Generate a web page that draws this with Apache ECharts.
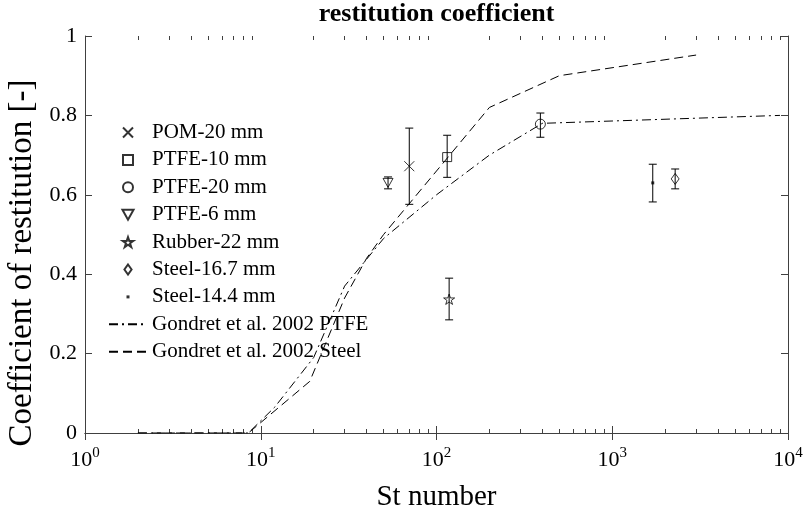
<!DOCTYPE html>
<html>
<head>
<meta charset="utf-8">
<script src="https://cdn.jsdelivr.net/npm/echarts@6/dist/echarts.min.js"></script>
<style>html,body{margin:0;padding:0;background:#fff}#c{width:807px;height:513px}</style>
</head>
<body>
<div id="c"></div>
<script>
// ---- data ----
const titleText = 'restitution coefficient';
const xName = 'St number';
const yName = 'Coefficient of restitution [-]';
const pointNames = ['POM-20 mm','PTFE-10 mm','PTFE-20 mm','PTFE-6 mm','Rubber-22 mm','Steel-16.7 mm','Steel-14.4 mm'];
const pointSt   = [70, 115, 390, 53, 118, 2280, 1700];
const pointCoef = [0.672, 0.695, 0.778, 0.630, 0.337, 0.640, 0.630];
const errLow    = [0.576, 0.644, 0.745, 0.615, 0.285, 0.615, 0.582];
const errHigh   = [0.768, 0.750, 0.806, 0.645, 0.390, 0.665, 0.677];
const ptfeName = 'Gondret et al. 2002 PTFE';
const ptfeSt   = [2, 8.5, 12, 20, 30, 50, 100, 200, 400, 9000];
const ptfeCoef = [0, 0, 0.065, 0.19, 0.37, 0.49, 0.60, 0.70, 0.78, 0.80];
const steelName = 'Gondret et al. 2002 Steel';
const steelSt   = [2, 8.5, 19, 30, 40, 50, 100, 200, 500, 3000];
const steelCoef = [0, 0, 0.13, 0.34, 0.44, 0.50, 0.66, 0.82, 0.90, 0.952];
const yTicks = [0, 0.2, 0.4, 0.6, 0.8, 1];
const xMin = 1, xMax = 10000;
const minorTicks = [];
for (let d = 1; d < xMax; d *= 10) for (let m = 2; m <= 9; m++) minorTicks.push(m * d);

// ---- styles ----
const FF = "'Liberation Serif','DejaVu Serif',serif";
const AX = '#404040';
const symbols = [
  'path://M0,0L10,10M10,0L0,10',
  'path://M0,0L10,0L10,10L0,10Z',
  'circle',
  'path://M0,0L10,0L5,9Z',
  'path://M50,0L61.8,35.4L99,35.4L69,57.3L80.4,92.7L50,70.8L19.6,92.7L31,57.3L1,35.4L38.2,35.4Z',
  'path://M5,0L10,7L5,14L0,7Z',
  'path://M0,0M10,10M3.5,3.5L6.5,3.5L6.5,6.5L3.5,6.5Z'
];
const sizes = [10, 9, 10, 10, 11, 11, 10];

const series = [];
pointNames.forEach((n, i) => {
  const dot = i === 6;
  series.push({
    name: n, type: 'scatter', xAxisIndex: 0, yAxisIndex: 0,
    symbol: symbols[i], symbolSize: sizes[i], symbolKeepAspect: true,
    itemStyle: {color: dot ? '#000' : 'rgba(255,255,255,0)', borderColor: '#000', borderWidth: dot ? 0 : 1},
    data: [[pointSt[i], pointCoef[i]]], z: 4
  });
});
series.push({
  name: 'errorbars', type: 'custom', xAxisIndex: 0, yAxisIndex: 0, z: 3,
  data: pointSt.map((s, i) => [s, errLow[i], errHigh[i]]),
  renderItem: function (params, api) {
    const lo = api.coord([api.value(0), api.value(1)]);
    const hi = api.coord([api.value(0), api.value(2)]);
    const c = 4;
    const st = {stroke: '#000', lineWidth: 1};
    return {type: 'group', children: [
      {type: 'line', shape: {x1: lo[0], y1: lo[1], x2: hi[0], y2: hi[1]}, style: st},
      {type: 'line', shape: {x1: lo[0] - c, y1: lo[1], x2: lo[0] + c, y2: lo[1]}, style: st},
      {type: 'line', shape: {x1: hi[0] - c, y1: hi[1], x2: hi[0] + c, y2: hi[1]}, style: st}
    ]};
  }
});
series.push({
  name: ptfeName, type: 'line', symbol: 'none', xAxisIndex: 0, yAxisIndex: 0, z: 2,
  lineStyle: {color: '#000', width: 1, type: [9, 4, 2, 4]},
  itemStyle: {color: 'rgba(0,0,0,0)', borderWidth: 0},
  data: ptfeSt.map((s, i) => [s, ptfeCoef[i]])
});
series.push({
  name: steelName, type: 'line', symbol: 'none', xAxisIndex: 0, yAxisIndex: 0, z: 2,
  lineStyle: {color: '#000', width: 1, type: [9, 5]},
  itemStyle: {color: 'rgba(0,0,0,0)', borderWidth: 0},
  data: steelSt.map((s, i) => [s, steelCoef[i]])
});

const baseX = {type: 'log', logBase: 10, min: xMin, max: xMax, splitLine: {show: false}};
const expFmt = v => '{b|10}{s|' + Math.round(Math.log10(v)) + '}';

const option = {
  backgroundColor: '#fff',
  animation: false,
  grid: {left: 85, right: 19, top: 36, bottom: 80, containLabel: false, outerBoundsMode: 'none'},
  legend: {
    orient: 'vertical', left: 108, top: 122, padding: 0,
    itemWidth: 38, itemHeight: 10, itemGap: 6.4,
    data: pointNames.concat([ptfeName, steelName]),
    textStyle: {fontFamily: FF, fontSize: 21, lineHeight: 21, color: '#000'},
    selectedMode: false
  },
  xAxis: [
    Object.assign({}, baseX, {
      position: 'bottom', name: xName, nameLocation: 'middle', nameGap: 50,
      nameTextStyle: {fontFamily: FF, fontSize: 29, color: '#000'},
      axisLine: {show: true, lineStyle: {color: AX}},
      axisTick: {inside: true, length: 7, lineStyle: {color: AX}},
      axisLabel: {margin: 13, formatter: expFmt, color: '#000',
        rich: {b: {fontFamily: FF, fontSize: 22, lineHeight: 28, color: '#000'},
               s: {fontFamily: FF, fontSize: 15, lineHeight: 15, verticalAlign: 'top', color: '#000'}}}
    }),
    Object.assign({}, baseX, {
      position: 'top', name: titleText, nameLocation: 'middle', nameGap: 9,
      nameTextStyle: {fontFamily: FF, fontSize: 26, fontWeight: 'bold', color: '#000', verticalAlign: 'bottom'},
      axisLine: {show: true, lineStyle: {color: AX}},
      axisTick: {inside: true, length: 7, lineStyle: {color: AX}},
      axisLabel: {show: false}
    }),
    Object.assign({}, baseX, {
      position: 'bottom', axisLine: {show: false},
      axisTick: {inside: true, length: 4, customValues: minorTicks, lineStyle: {color: AX}},
      axisLabel: {show: false}
    }),
    Object.assign({}, baseX, {
      position: 'top', axisLine: {show: false},
      axisTick: {inside: true, length: 4, customValues: minorTicks, lineStyle: {color: AX}},
      axisLabel: {show: false}
    })
  ],
  yAxis: [
    {
      type: 'value', min: 0, max: 1, interval: 0.2, position: 'left',
      name: yName, nameLocation: 'middle', nameGap: 44,
      nameTextStyle: {fontFamily: FF, fontSize: 33, color: '#000', padding: [0, 57, 0, 0]},
      splitLine: {show: false},
      axisLine: {show: true, lineStyle: {color: AX}},
      axisTick: {inside: true, length: 7, lineStyle: {color: AX}},
      axisLabel: {margin: 8, fontFamily: FF, fontSize: 22, color: '#000',
        customValues: yTicks}
    },
    {
      type: 'value', min: 0, max: 1, interval: 0.2, position: 'right',
      splitLine: {show: false},
      axisLine: {show: true, lineStyle: {color: AX}},
      axisTick: {inside: true, length: 7, lineStyle: {color: AX}},
      axisLabel: {show: false}
    }
  ],
  series: series
};
const chart = echarts.init(document.getElementById('c'), null, {renderer: 'canvas'});
chart.setOption(option);
</script>
</body>
</html>
